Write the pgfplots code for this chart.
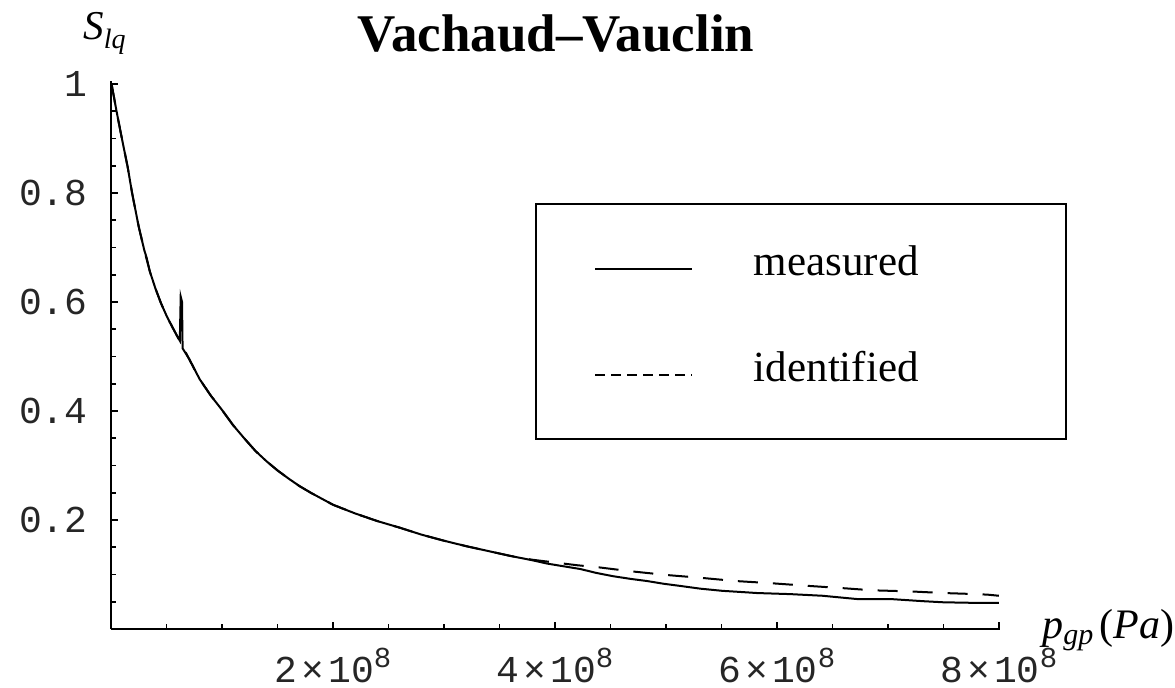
\documentclass[border=0pt]{standalone}
\usepackage{fontspec}
\setmainfont{Liberation Serif}
\newfontfamily\monofont{Liberation Mono}
\usepackage{pgfplots}
\usepackage{pgfplotstable}
\pgfplotsset{compat=1.18}

% x in units of 10^8 Pa
\pgfplotstableread{
x y
0.005 1.000
0.05 0.950
0.10 0.898
0.15 0.848
0.19 0.800
0.25 0.738
0.30 0.695
0.32 0.682
0.35 0.656
0.40 0.625
0.45 0.598
0.50 0.575
0.55 0.555
0.60 0.536
0.62 0.529
0.628 0.610
0.640 0.600
0.645 0.515
0.70 0.497
0.80 0.458
0.90 0.428
1.00 0.402
1.10 0.374
1.20 0.350
1.30 0.327
1.40 0.308
1.50 0.291
1.60 0.276
1.70 0.262
1.80 0.250
1.90 0.239
2.00 0.228
2.20 0.212
2.40 0.198
2.60 0.186
2.80 0.173
3.00 0.162
3.20 0.152
3.40 0.143
3.60 0.134
3.80 0.126
3.93 0.120
4.08 0.115
4.23 0.110
4.37 0.103
4.52 0.097
4.68 0.092
4.83 0.088
4.98 0.083
5.13 0.079
5.31 0.074
5.51 0.070
5.67 0.068
5.82 0.066
6.12 0.064
6.41 0.061
6.72 0.055
7.02 0.055
7.32 0.051
7.50 0.049
7.77 0.048
8.00 0.048
}\measured

\pgfplotstableread{
x y
0.005 1.000
0.05 0.950
0.10 0.898
0.15 0.848
0.19 0.800
0.25 0.738
0.30 0.695
0.35 0.656
0.40 0.625
0.45 0.598
0.50 0.575
0.55 0.555
0.60 0.536
0.70 0.497
0.80 0.458
0.90 0.428
1.00 0.402
1.10 0.374
1.20 0.350
1.30 0.327
1.40 0.308
1.50 0.291
1.60 0.276
1.70 0.262
1.80 0.250
1.90 0.239
2.00 0.228
2.20 0.212
2.40 0.198
2.60 0.186
2.80 0.173
3.00 0.162
3.20 0.152
3.40 0.143
3.60 0.134
3.80 0.127
4.00 0.122
4.20 0.117
4.40 0.113
4.68 0.106
5.01 0.099
5.31 0.094
5.63 0.088
5.95 0.084
6.29 0.079
6.59 0.075
6.86 0.071
7.20 0.069
7.50 0.066
7.80 0.064
7.90 0.063
8.00 0.061
}\identified

\newcommand\xl[1]{#1\hspace{2pt}×\hspace{2pt}10\raisebox{7.5pt}{\fontsize{14.5}{15}\selectfont 8}}

\begin{document}
\begin{tikzpicture}
\path[use as bounding box] (0,0) rectangle (587.5pt,343.5pt);
\begin{axis}[
  at={(55.5pt,29pt)}, anchor=south west,
  scale only axis, width=444.5pt, height=274pt,
  xmin=0, xmax=8.01, ymin=0, ymax=1.0055,
  axis lines=left, axis line style={-, line width=1pt, black},
  tick align=inside, major tick length=3.5pt, minor tick length=2.5pt,
  tick style={line width=0.8pt, black},
  xtick={2,4,6,8}, xticklabels={\xl{2},\xl{4},\xl{6},\xl{8}},
  minor xtick={0.5,1,1.5,2.5,3,3.5,4.5,5,5.5,6.5,7,7.5},
  ytick={0.2,0.4,0.6,0.8,1}, yticklabels={0.2,0.4,0.6,0.8,1},
  minor ytick={0.05,0.1,0.15,0.25,0.3,0.35,0.45,0.5,0.55,0.65,0.7,0.75,0.85,0.9,0.95},
  ticklabel style={font=\monofont\fontsize{19}{19}\selectfont, text=black!85},
  xticklabel style={anchor=base, inner sep=0pt, yshift=-26.5pt},
  yticklabel style={anchor=east, inner sep=0pt, xshift=-11.5pt, text height=12.5pt, text depth=0pt},
  legend cell align=left,
  legend style={at={(0.477,0.777)}, anchor=north west, draw=black, line width=1pt,
    inner xsep=0pt, inner ysep=24.95pt, row sep=38.4pt, column sep=30.5pt,
    nodes={inner sep=0pt, text height=10.8pt, text depth=3.8pt},
    font=\fontsize{21.5}{24}\selectfont},
]
\addplot[black, line width=1pt,
  legend image code/.code={\path[draw=none] (-29.5pt,0pt) -- (0pt,0pt); \draw[black, line width=0.9pt, solid] (0pt,0pt) -- (48.5pt,0pt);}]
  table[x=x,y=y]{\measured};
\addlegendentry{\makebox[156pt][l]{measured}}
\addplot[black, line width=1pt, dash pattern=on 10pt off 7.5pt,
  legend image code/.code={\path[draw=none] (-29.5pt,0pt) -- (0pt,0pt); \draw[black, line width=0.9pt, dash pattern=on 5pt off 3pt] (0pt,0pt) -- (48.5pt,0pt);}]
  table[x=x,y=y]{\identified};
\addlegendentry{\makebox[156pt][l]{identified}}
\end{axis}
\node[anchor=base, inner sep=0pt, font=\bfseries\fontsize{26.5}{30}\selectfont] at (278pt,317.5pt) {Vachaud–Vauclin};
\node[anchor=base west, inner sep=0pt] at (41.5pt,323.5pt) {\fontsize{20.5}{24}\selectfont\textit{S}\raisebox{-4.5pt}{\fontsize{14}{16}\selectfont\textit{lq}}};
\node[anchor=base west, inner sep=0pt] at (521pt,24pt) {\fontsize{21}{24}\selectfont\textit{p}\raisebox{-3pt}{\fontsize{15}{17}\selectfont\textit{gp}}\hspace{3pt}(\textit{Pa})};
\end{tikzpicture}
\end{document}
